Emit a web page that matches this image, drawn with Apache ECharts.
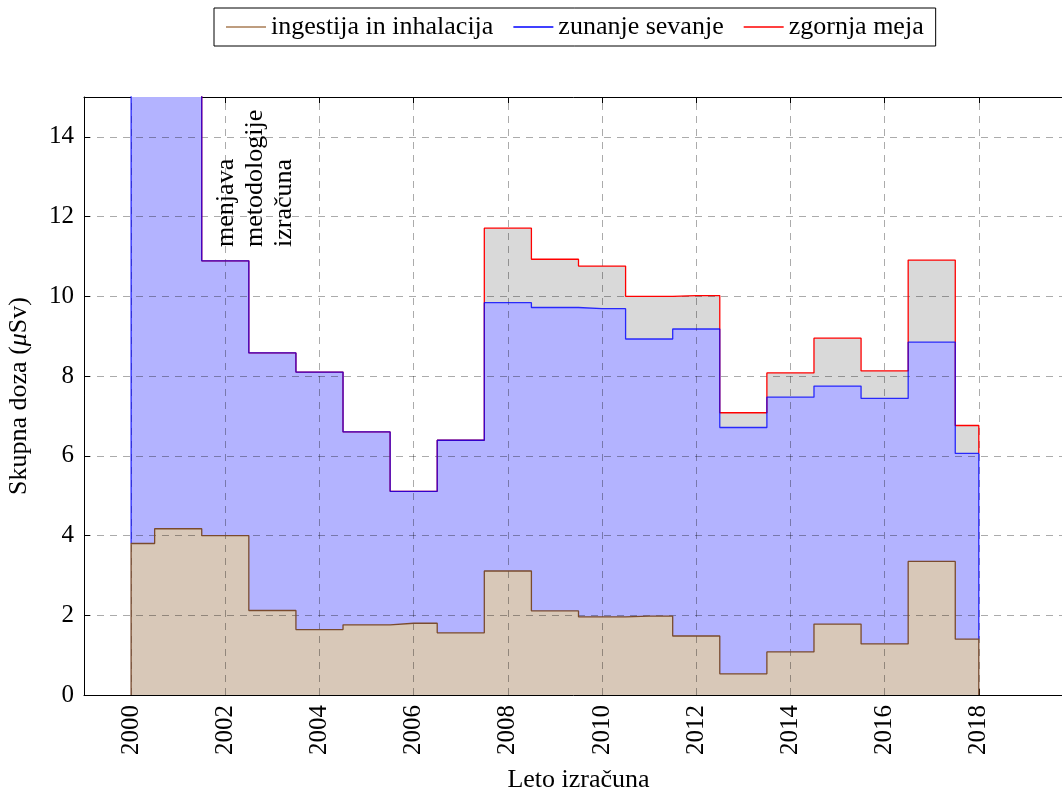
<!DOCTYPE html>
<html>
<head>
<meta charset="utf-8">
<script src="https://cdn.jsdelivr.net/npm/echarts@6/dist/echarts.min.js"></script>
<style>
  html, body { margin: 0; padding: 0; background: #fff; }
  #chart { width: 1062px; height: 791px; }
</style>
</head>
<body>
<div id="chart"></div>
<script>
// Annual dose estimates (µSv), one value per calculation year
const years = [2000, 2001, 2002, 2003, 2004, 2005, 2006, 2007, 2008, 2009,
               2010, 2011, 2012, 2013, 2014, 2015, 2016, 2017, 2018];
// ingestion + inhalation
const ingestija = [3.80, 4.17, 4.00, 2.12, 1.64, 1.76, 1.80, 1.56, 3.11, 2.11,
                   1.96, 1.98, 1.48, 0.53, 1.08, 1.78, 1.28, 3.35, 1.40];
// cumulative level after adding external radiation
const zunanje = [19.5, 18.0, 10.89, 8.58, 8.10, 6.60, 5.11, 6.39, 9.84, 9.72,
                 9.69, 8.93, 9.18, 6.71, 7.47, 7.75, 7.44, 8.85, 6.06];
// upper bound of the total dose
const zgornja = [19.5, 18.0, 10.89, 8.58, 8.10, 6.60, 5.11, 6.39, 11.71, 10.93,
                 10.76, 10.00, 10.02, 7.08, 8.08, 8.95, 8.13, 10.91, 6.76];

const xTicks = [2000, 2002, 2004, 2006, 2008, 2010, 2012, 2014, 2016, 2018];
const yTicks = [0, 2, 4, 6, 8, 10, 12, 14];

const FONT = '"Liberation Serif", "DejaVu Serif", serif';
const FS = 26;      // names, legend, note
const FS_TICK = 25; // tick labels
const last = years.length - 1;

// step outlines closed by vertical edges at the first and last year
const brownPts = [[years[0], 0]].concat(years.map((y, i) => [y, ingestija[i]]), [[years[last], 0]]);
const bluePts = [[years[0], ingestija[0]]].concat(years.map((y, i) => [y, zunanje[i]]), [[years[last], ingestija[last]]]);
const redPts = [[years[0], zunanje[0]]].concat(years.map((y, i) => [y, zgornja[i]]), [[years[last], zunanje[last]]]);

const C = {
  brownLine: '#7a4b2d', brownLegend: '#a87d55', brownFill: '#d8c8b8',
  blueLine: '#0000ff', blueFill: '#b3b3ff',
  redLine: '#ff0000', grayFill: '#d9d9d9'
};

function areaSeries(name, data, fill, z) {
  return {
    name: name, type: 'line', step: 'middle', data: data, z: z,
    showSymbol: false, symbol: 'none', silent: true,
    lineStyle: { width: 0, opacity: 0 },
    areaStyle: { color: fill, opacity: 1 }
  };
}
function lineSeries(name, data, color, legendColor, z, opacity) {
  return {
    name: name, type: 'line', step: 'middle', data: data, z: z,
    showSymbol: false, symbol: 'none', silent: true,
    itemStyle: { color: legendColor },
    lineStyle: { color: color, width: 1.3, opacity: opacity }
  };
}

const chart = echarts.init(document.getElementById('chart'), null, { renderer: 'canvas' });

const axisCommon = {
  type: 'value', min: 1999, max: 2020,
  splitLine: { show: false },
  axisLine: { show: true, lineStyle: { color: '#000', width: 1 } },
  axisTick: { show: true, inside: true, length: 6, customValues: xTicks, lineStyle: { color: '#000', width: 1 } }
};

chart.setOption({
  animation: false,
  backgroundColor: '#fff',
  textStyle: { fontFamily: FONT },
  grid: { left: 84, right: -11, top: 97, bottom: 96, containLabel: false, outerBoundsMode: 'none' },
  legend: {
    left: 214, top: 8,
    orient: 'horizontal',
    icon: 'rect', itemWidth: 40, itemHeight: 1.4, itemGap: 20,
    borderColor: '#000', borderWidth: 1, borderRadius: 0,
    padding: [6, 12],
    textStyle: { fontFamily: FONT, fontSize: FS, color: '#000' },
    data: [
      { name: 'ingestija in inhalacija', itemStyle: { color: C.brownLegend } },
      { name: 'zunanje sevanje' },
      { name: 'zgornja meja' }
    ]
  },
  xAxis: [
    Object.assign({}, axisCommon, {
      position: 'bottom',
      axisLabel: {
        customValues: xTicks, rotate: 90, margin: 10, color: '#000',
        fontFamily: FONT, fontSize: FS_TICK, formatter: v => String(v)
      },
      name: 'Leto izračuna', nameLocation: 'middle', nameGap: 72,
      nameTextStyle: { fontFamily: FONT, fontSize: FS, color: '#000' }
    }),
    Object.assign({}, axisCommon, {
      position: 'top',
      axisLabel: { show: false }
    })
  ],
  yAxis: {
    type: 'value', min: 0, max: 15,
    splitLine: { show: false },
    axisLine: { show: true, lineStyle: { color: '#000', width: 1 } },
    axisTick: { show: true, inside: true, length: 6, customValues: yTicks, lineStyle: { color: '#000' } },
    axisLabel: { customValues: yTicks, margin: 10, color: '#000', fontFamily: FONT, fontSize: FS_TICK, formatter: v => String(v) },
    name: '{a|Skupna doza (}{b|μ}{a|Sv)}', nameLocation: 'middle', nameGap: 52,
    nameTextStyle: {
      rich: {
        a: { fontFamily: FONT, fontSize: FS, color: '#000' },
        b: { fontFamily: FONT, fontSize: FS, color: '#000', fontStyle: 'italic' }
      }
    }
  },
  series: [
    areaSeries('zgornja meja (ploskev)', redPts, C.grayFill, 1),
    areaSeries('zunanje sevanje (ploskev)', bluePts, C.blueFill, 2),
    areaSeries('ingestija (ploskev)', brownPts, C.brownFill, 3),
    {
      name: 'mreža', type: 'line', data: [], z: 4, silent: true,
      markLine: {
        silent: true, symbol: ['none', 'none'], animation: false,
        label: { show: false },
        lineStyle: { color: 'rgba(0,0,0,0.33)', width: 1, type: [7, 6] },
        emphasis: { disabled: true },
        data: xTicks.map(v => ({ xAxis: v })).concat(yTicks.filter(v => v > 0).map(v => ({ yAxis: v })))
      }
    },
    lineSeries('zgornja meja', redPts, C.redLine, C.redLine, 5, 1),
    lineSeries('zunanje sevanje', bluePts, C.blueLine, C.blueLine, 6, 0.8),
    lineSeries('ingestija in inhalacija', brownPts, C.brownLine, C.brownLegend, 7, 1)
  ]
});

// rotated note about the change of calculation method
const notePos = chart.convertToPixel({ xAxisIndex: 0, yAxisIndex: 0 }, [2001.72, 11.24]);
chart.setOption({
  graphic: [{
    type: 'text', x: notePos[0], y: notePos[1], rotation: Math.PI / 2, z: 100,
    style: {
      text: 'menjava\nmetodologije\nizračuna',
      font: FS + 'px ' + FONT, fill: '#000',
      align: 'left', verticalAlign: 'top', textAlign: 'left', textVerticalAlign: 'top',
      lineHeight: 29
    }
  }]
});
</script>
</body>
</html>
